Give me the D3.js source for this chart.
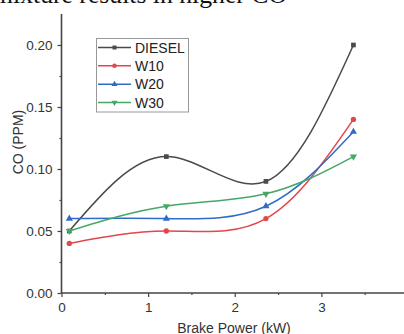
<!DOCTYPE html>
<html>
<head>
<meta charset="utf-8">
<script src="https://cdn.jsdelivr.net/npm/d3@7"></script>
<style>
  body { margin: 0; background: #fff; overflow: hidden; }
  svg { display: block; }
  text { font-family: "Liberation Sans", Arial, sans-serif; fill: #333; }
  .doc-line { font-family: "Liberation Serif", "Times New Roman", serif; fill: #111; }
</style>
</head>
<body>
<div id="chart"></div>
<script>
// --- data ---
const brakePower = [0.09, 1.21, 2.36, 3.37];
const seriesNames = ["DIESEL", "W10", "W20", "W30"];
const diesel = [0.05, 0.11, 0.09, 0.20];
const w10 = [0.04, 0.05, 0.06, 0.14];
const w20 = [0.06, 0.06, 0.07, 0.13];
const w30 = [0.05, 0.07, 0.08, 0.11];
const xTicks = [0, 1, 2, 3, 4];
const yTicks = [0, 0.05, 0.10, 0.15, 0.20];

const colors = ["#4a4a4a", "#e2474b", "#2f6bc9", "#46a866"];
const markers = [d3.symbolSquare, d3.symbolCircle, d3.symbolTriangle, "down"];
const allValues = [diesel, w10, w20, w30];

const W = 404, H = 334;
const svg = d3.select("#chart").append("svg")
  .attr("width", W)
  .attr("height", H);

// cut-off line of document text above the figure
const doc = svg.append("text")
  .attr("class", "doc-line")
  .attr("text-anchor", "end")
  .attr("x", 287)
  .attr("y", 3)
  .style("font-size", "20px")
  .text("mixture results in higher CO");
const docLen = doc.node().getComputedTextLength();
doc.style("font-size", (20 * 294 / docLen) + "px");

// --- scales ---
const x = d3.scaleLinear().domain([0, 4]).range([61.5, 408]);
const y = d3.scaleLinear().domain([0, 0.225]).range([293, 14]);

// --- axes ---
const xAxis = svg.append("g").attr("transform", `translate(0,${y(0)})`);
xAxis.call(d3.axisBottom(x).tickValues(xTicks).tickFormat(d3.format("d")).tickSize(4).tickPadding(5));
xAxis.append("g").call(d3.axisBottom(x).tickValues(d3.range(0.5, 4, 1)).tickSize(2).tickFormat(""));
xAxis.selectAll(".domain").remove();
xAxis.append("line").attr("x1", x(0)).attr("x2", W + 10)
  .attr("stroke", "#444").attr("stroke-width", 1.6);

const yAxis = svg.append("g").attr("transform", `translate(${x(0)},0)`);
yAxis.call(d3.axisLeft(y).tickValues(yTicks).tickFormat(d3.format(".2f")).tickSize(4).tickPadding(5));
yAxis.append("g").call(d3.axisLeft(y).tickValues(d3.range(0.025, 0.225, 0.05)).tickSize(2).tickFormat(""));
yAxis.selectAll(".domain").remove();
yAxis.append("line").attr("y1", y(0)).attr("y2", y(0.225))
  .attr("stroke", "#444").attr("stroke-width", 1.6);

svg.selectAll(".tick line").attr("stroke", "#444").attr("stroke-width", 1.2);
svg.selectAll(".tick text").style("font-size", "13.5px").style("fill", "#333");

// axis titles
svg.append("text")
  .attr("text-anchor", "middle")
  .attr("x", 234)
  .attr("y", 333)
  .style("font-size", "14px")
  .text("Brake Power (kW)");

svg.append("text")
  .attr("text-anchor", "middle")
  .attr("transform", "translate(23,142) rotate(-90)")
  .style("font-size", "14px")
  .text("CO (PPM)");

// --- lines ---
const line = d3.line()
  .x((d, i) => x(brakePower[i]))
  .y(d => y(d))
  .curve(d3.curveNatural);

function symbolPath(m, size) {
  if (m === "down") {
    return d3.symbol().type(d3.symbolTriangle).size(size)();
  }
  return d3.symbol().type(m).size(size)();
}

const plot = svg.append("g").attr("class", "plot");
allValues.forEach((vals, k) => {
  plot.append("path")
    .datum(vals)
    .attr("d", line)
    .attr("fill", "none")
    .attr("stroke", colors[k])
    .attr("stroke-width", 1.5);

  plot.selectAll(".m" + k)
    .data(vals)
    .enter().append("path")
    .attr("class", "m" + k)
    .attr("d", symbolPath(markers[k], 22))
    .attr("transform", (d, i) => `translate(${x(brakePower[i])},${y(d)})` + (markers[k] === "down" ? " rotate(180)" : ""))
    .attr("fill", colors[k]);
});

// --- legend ---
const legend = svg.append("g").attr("class", "legend");
legend.append("rect")
  .attr("x", 96.5).attr("y", 38.5)
  .attr("width", 92).attr("height", 73.5)
  .attr("fill", "#fff")
  .attr("stroke", "#999");

const legendY = d3.scalePoint().domain(seriesNames).range([47.5, 102.5]);
seriesNames.forEach((name, k) => {
  const ly = legendY(name);
  legend.append("line")
    .attr("x1", 98).attr("x2", 131)
    .attr("y1", ly).attr("y2", ly)
    .attr("stroke", colors[k]).attr("stroke-width", 1.5);
  legend.append("path")
    .attr("d", symbolPath(markers[k], 16))
    .attr("transform", `translate(114.5,${ly})` + (markers[k] === "down" ? " rotate(180)" : ""))
    .attr("fill", colors[k]);
  legend.append("text")
    .attr("x", 135)
    .attr("y", ly + 5)
    .style("font-size", "14px")
    .style("fill", "#222")
    .text(name);
});
</script>
</body>
</html>
